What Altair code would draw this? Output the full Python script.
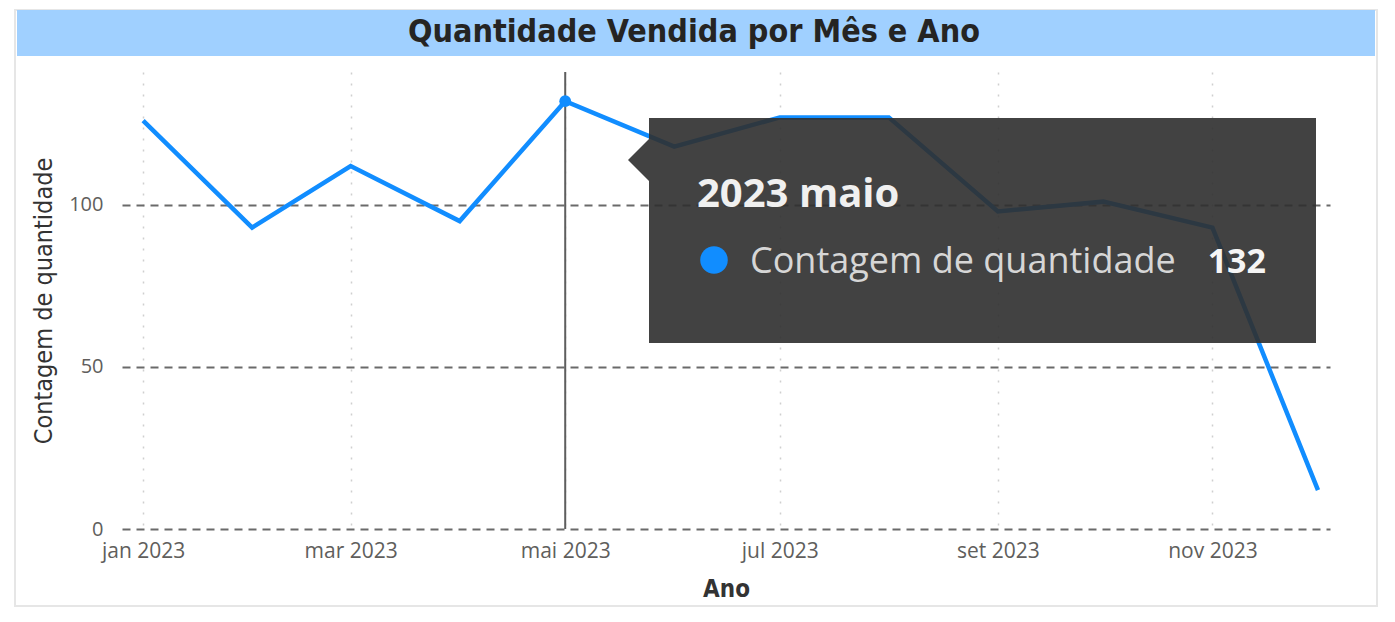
import altair as alt
import pandas as pd

# ---- data ----
months = ["2023-01-01", "2023-02-01", "2023-03-01", "2023-04-01", "2023-05-01", "2023-06-01",
          "2023-07-01", "2023-08-01", "2023-09-01", "2023-10-01", "2023-11-01", "2023-12-01"]
values = [126, 93, 112, 95, 132, 118, 127, 127, 98, 101, 93, 12]
month_names = ["jan", "fev", "mar", "abr", "mai", "jun", "jul", "ago", "set", "out", "nov", "dez"]
y_ticks = [0, 50, 100]
x_tick_months = [1, 3, 5, 7, 9, 11]

chart_title = "Quantidade Vendida por Mês e Ano"
x_title = "Ano"
y_title = "Contagem de quantidade"
highlight_month = "2023-05-01"
tooltip_header = "2023 maio"

df = pd.DataFrame({"mes": months, "valor": values})
hl = df[df["mes"] == highlight_month].copy()
hl["header"] = tooltip_header
hl["serie"] = y_title

W, H = 1208, 457
BLUE = "#118dff"

x_scale = alt.Scale(
    type="utc",
    domain=[alt.DateTime(year=2022, month=12, date=26, utc=True),
            alt.DateTime(year=2023, month=12, date=4, hours=10, utc=True)],
)
y_scale = alt.Scale(domain=[0, 141], nice=False)

label_expr = ("['" + "','".join(month_names) + "'][utcmonth(datum.value)] + ' ' + utcyear(datum.value)")

x_axis = alt.Axis(
    title=x_title,
    values=[alt.DateTime(year=2023, month=m, date=1, utc=True) for m in x_tick_months],
    labelExpr=label_expr,
    grid=True, gridDash=[2, 9], gridColor="#cfcfcf", gridWidth=1.5,
    domain=False, ticks=False, tickSize=0,
    labelFont="Open Sans", labelFontSize=21, labelColor="#605e5c", labelPadding=11,
    titleFont="DejaVu Sans Condensed", titleFontSize=24, titleFontWeight="bold",
    titleColor="#333333", titlePadding=16,
)
y_axis = alt.Axis(
    title=y_title, values=y_ticks,
    grid=True, gridDash=[8, 6], gridColor="#6a6a6a", gridWidth=2.2,
    domain=False, ticks=False, tickSize=0,
    labelFont="Open Sans", labelFontSize=20, labelColor="#605e5c", labelPadding=19,
    titleFont="DejaVu Sans Condensed", titleFontSize=25, titleFontWeight="normal",
    titleColor="#333333", titlePadding=12,
)

one = alt.Data(values=[{"a": 1}])

frame = alt.Chart(one).mark_rect(fill="white", fillOpacity=0, stroke="#e6e6e6", strokeWidth=2).encode(
    x=alt.value(-107), x2=alt.value(1255), y=alt.value(-62), y2=alt.value(534))
band = alt.Chart(one).mark_rect(fill="#a0d0ff").encode(
    x=alt.value(-105), x2=alt.value(1253), y=alt.value(-62), y2=alt.value(-16))
title_txt = alt.Chart(one).mark_text(
    text=chart_title, font="DejaVu Sans Condensed", fontWeight="bold", fontSize=32,
    color="#252423", align="center", baseline="middle").encode(
    x=alt.value(572), y=alt.value(-40))

line = alt.Chart(df).mark_line(color=BLUE, strokeWidth=4.5).encode(
    x=alt.X("mes:T", scale=x_scale, axis=x_axis),
    y=alt.Y("valor:Q", scale=y_scale, axis=y_axis),
)
rule = alt.Chart(hl).mark_rule(color="#5e5e5e", strokeWidth=2).encode(
    x="mes:T", y=alt.value(0), y2=alt.value(H))
point = alt.Chart(hl).mark_point(filled=True, color=BLUE, size=140, opacity=1).encode(
    x="mes:T", y="valor:Q")

TIP_FILL = "#2f2f2f"
TIP_OP = 0.91
tip_box = alt.Chart(one).mark_rect(fill=TIP_FILL, opacity=TIP_OP).encode(
    x=alt.value(527), x2=alt.value(1194), y=alt.value(46), y2=alt.value(271))
tip_arrow = alt.Chart(one).mark_point(
    shape="M0,-1L-1,0L0,1Z", filled=True, fill=TIP_FILL, opacity=TIP_OP, size=1764, strokeWidth=0).encode(
    x=alt.value(527), y=alt.value(88))
tip_header = alt.Chart(hl).mark_text(
    font="Open Sans", fontWeight="bold", fontSize=40, color="#f0f0f0", align="left",
    baseline="alphabetic").encode(text="header:N", x=alt.value(575), y=alt.value(135))
tip_dot = alt.Chart(one).mark_point(filled=True, color=BLUE, size=760, opacity=1).encode(
    x=alt.value(592), y=alt.value(188))
tip_serie = alt.Chart(hl).mark_text(
    font="Open Sans", fontSize=36, color="#d6d6d6", align="left",
    baseline="alphabetic").encode(text="serie:N", x=alt.value(628), y=alt.value(201))
tip_value = alt.Chart(hl).mark_text(
    font="Open Sans", fontWeight="bold", fontSize=34, color="#f5f5f5", align="right",
    baseline="alphabetic").encode(text="valor:Q", x=alt.value(1144), y=alt.value(201))

chart = alt.layer(
    frame, band, title_txt, line, rule, point,
    tip_box, tip_arrow, tip_header, tip_dot, tip_serie, tip_value,
).properties(
    width=W, height=H,
    padding={"left": 114, "top": 64, "right": 57, "bottom": 85},
    autosize=alt.AutoSizeParams(type="none"),
    background="white",
).configure_view(stroke=None)

chart.save("out.html", embed_options={"renderer": "svg", "actions": False})
